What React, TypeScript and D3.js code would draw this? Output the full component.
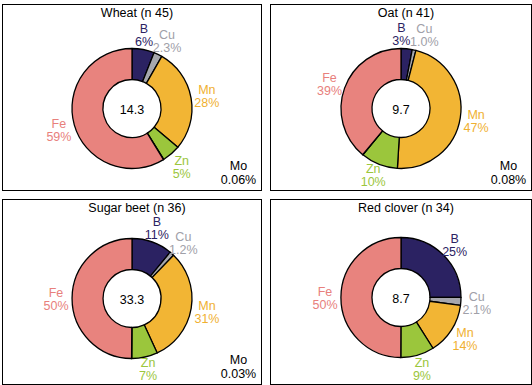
import * as d3 from 'd3';

const elements = ['B', 'Cu', 'Mn', 'Zn', 'Mo', 'Fe'];
const colors = ['#2b2262', '#a6a7ad', '#f2b534', '#9bc63c', '#000000', '#e8837e'];
const labelColors = ['#2b2262', '#a0a0a8', '#f0b030', '#9bc63c', '#000000', '#e8807c'];

const crops = ['Wheat (n 45)', 'Oat (n 41)', 'Sugar beet (n 36)', 'Red clover (n 34)'];
const totals = ['14.3', '9.7', '33.3', '8.7'];

const wheat = [6, 2.3, 28, 5, 0.06, 59];
const oat = [3, 1.0, 47, 10, 0.08, 39];
const sugarBeet = [11, 1.2, 31, 7, 0.03, 50];
const redClover = [25, 2.1, 14, 9, null, 50];
const series = [wheat, oat, sugarBeet, redClover];

// panel boxes: x0, y0, x1, y1 and donut centre offset
const panels = [
  { x0: 2.5, y0: 4.5, x1: 261.5, y1: 190.5, dy: 104 },
  { x0: 270.5, y0: 4.5, x1: 531.5, y1: 190.5, dy: 104 },
  { x0: 2.5, y0: 199.5, x1: 261.5, y1: 384.5, dy: 99 },
  { x0: 270.5, y0: 199.5, x1: 531.5, y1: 384.5, dy: 98 },
];

const outerR = 60;
const innerR = 29;
const labelR = 76;
const fs = 12.5;
const font = '"Liberation Sans", Arial, sans-serif';

const fmt = (el, v) => (el === 'Mo' ? v.toFixed(2) : el === 'Cu' ? v.toFixed(1) : v.toFixed(0)) + '%';

const Donut = ({ idx }) => {
  const p = panels[idx];
  const cx = (p.x0 + p.x1) / 2;
  const cy = p.y0 + p.dy;
  const maxY = p.y1 - 16 - cy;
  const rows = elements
    .map((el, i) => ({ el, i, value: series[idx][i] }))
    .filter(d => d.value != null);

  const pie = d3.pie().sort(null).value(d => d.value).startAngle(0).endAngle(2 * Math.PI);
  const arcs = pie(rows);
  const arc = d3.arc().innerRadius(innerR).outerRadius(outerR);
  const labelArc = d3.arc().innerRadius(labelR).outerRadius(labelR);

  // label positions on the label ring, kept inside the box, then push overlapping neighbours apart
  const labels = arcs
    .filter(a => a.data.el !== 'Mo')
    .map(a => {
      const [x, y] = labelArc.centroid(a);
      const txt = fmt(a.data.el, a.data.value);
      return { a, x, y: Math.min(y + 1, maxY), txt, w: Math.max(txt.length, a.data.el.length) * 7 };
    });
  for (let k = 0; k < 3; k++) {
    for (let i = 0; i < labels.length - 1; i++) {
      const l1 = labels[i];
      const l2 = labels[i + 1];
      if (Math.abs(l1.y - l2.y) > 26) continue;
      const need = (l1.w + l2.w) / 2 + 2;
      const gap = l2.x - l1.x;
      if (Math.abs(gap) < need) {
        const s = (need - Math.abs(gap)) / 2;
        const dir = gap >= 0 ? 1 : -1;
        l1.x -= s * dir;
        l2.x += s * dir;
      }
    }
  }

  const mo = rows.find(d => d.el === 'Mo');

  return (
    <g>
      <rect x={p.x0} y={p.y0} width={p.x1 - p.x0} height={p.y1 - p.y0} fill="#fff" stroke="#000" strokeWidth={1} />
      <text x={cx + 5} y={p.y0 + 12} textAnchor="middle" fontSize={fs} fill="#000">{crops[idx]}</text>
      <g transform={`translate(${cx},${cy})`}>
        {arcs.map(a => (
          <path key={a.data.el} d={arc(a)} fill={colors[a.data.i]} stroke="#000" strokeWidth={1.3} strokeLinejoin="round" />
        ))}
        <text x={0} y={5} textAnchor="middle" fontSize={fs} fill="#000">{totals[idx]}</text>
        {labels.map(l => (
          <g key={l.a.data.el} fill={labelColors[l.a.data.i]} fontSize={fs} textAnchor="middle">
            <text x={l.x} y={l.y - 2}>{l.a.data.el}</text>
            <text x={l.x} y={l.y + 11}>{l.txt}</text>
          </g>
        ))}
      </g>
      {mo && (
        <g fontSize={fs} textAnchor="middle" fill="#000">
          <text x={p.x1 - 23} y={p.y1 - 21}>Mo</text>
          <text x={p.x1 - 23} y={p.y1 - 7}>{fmt('Mo', mo.value)}</text>
        </g>
      )}
    </g>
  );
};

export default function App() {
  return (
    <svg width={532} height={385} style={{ position: 'absolute', left: 0, top: 0, fontFamily: font }}>
      <rect width={532} height={385} fill="#fff" />
      {crops.map((c, i) => <Donut key={c} idx={i} />)}
    </svg>
  );
}
